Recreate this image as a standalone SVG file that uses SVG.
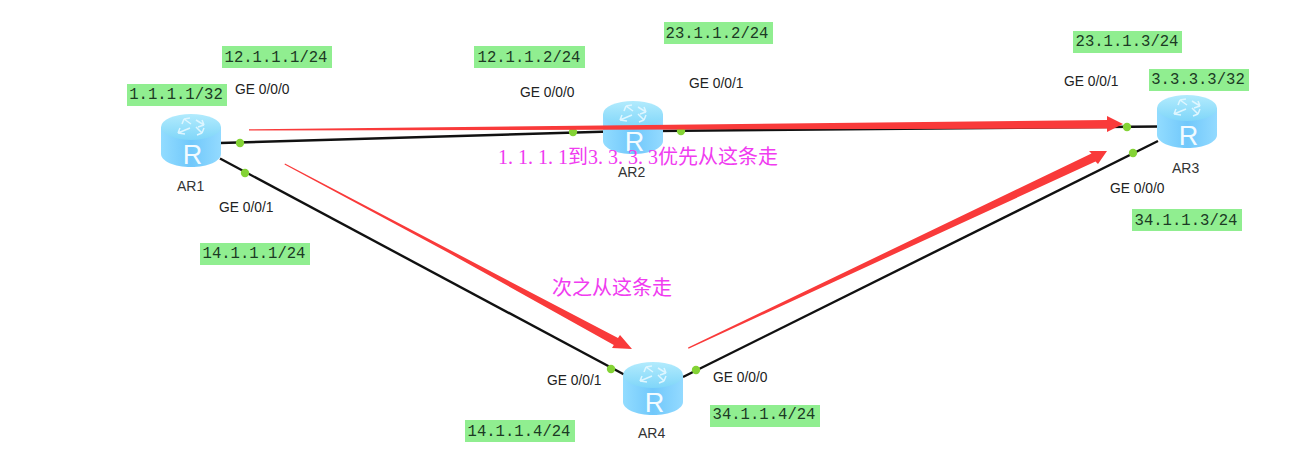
<svg xmlns="http://www.w3.org/2000/svg" width="1293" height="464" viewBox="0 0 1293 464">
<style>
.link{stroke:#111;stroke-width:2.4;fill:none}
.port{fill:#84d335}
.ge{font:13.8px "Liberation Sans",sans-serif;fill:#222}
.name{font:14px "Liberation Sans",sans-serif;fill:#333}
.tag{fill:#90ee90}
.ip{font:15.6px "Liberation Mono",monospace;fill:#1c3a24;text-anchor:middle}
.note{font:20px "Noto Sans CJK SC",sans-serif;fill:#f03cf0}
.note tspan{font:20px "Liberation Serif",serif}
.red{fill:#f93a3a}
.rt{font:27px "Liberation Sans",sans-serif;fill:#f2fbff;text-anchor:middle}
.ico{stroke:#def6ff;stroke-width:1.500;fill:none;stroke-linejoin:miter}
</style>
<defs>
<linearGradient id="body" x1="0" x2="1" y1="0" y2="0"><stop offset="0" stop-color="#92dcff"/><stop offset=".5" stop-color="#71c8fb"/><stop offset="1" stop-color="#93daff"/></linearGradient>
<linearGradient id="top" x1="0" x2="0" y1="0" y2="1"><stop offset="0" stop-color="#b2ebfd"/><stop offset="1" stop-color="#80d6f9"/></linearGradient>
<g id="router">
<path d="M0 13V40C0 47 13 53 30 53S60 47 60 40V13Z" fill="url(#body)"/>
<ellipse cx="30" cy="13" rx="30" ry="13" fill="url(#top)"/>
<path class="ico" d="M30 10L23 5M23 5L21 10M23 5L29 4M35 6L43 11M43 11L37 13M43 11L41 6M29 14L17 19M17 19L19 14M17 19L24 20M35 13L41 19M41 19L36 21M41 19L43 14"/>
</g>
</defs>
<rect width="1293" height="464" fill="#fff"/>
<g id="connectors">
<line class="link" x1="220" y1="143" x2="610" y2="131.500"/>
<line class="link" x1="655" y1="131" x2="1160" y2="126.500"/>
<line class="link" x1="220" y1="158.500" x2="625" y2="375"/>
<line class="link" x1="683" y1="377" x2="1158" y2="141"/>
<circle class="port" cx="240" cy="143" r="4.200"/>
<circle class="port" cx="245" cy="173" r="4.200"/>
<circle class="port" cx="573" cy="132" r="4.200"/>
<circle class="port" cx="681" cy="131" r="4.200"/>
<circle class="port" cx="1127" cy="127" r="4.200"/>
<circle class="port" cx="1133" cy="153" r="4.200"/>
<circle class="port" cx="611" cy="369" r="4.200"/>
<circle class="port" cx="696" cy="370" r="4.200"/>
</g>
<g id="AR1"><use href="#router" x="161" y="114"/><text class="rt" x="192.500" y="164">R</text><text class="name" x="177" y="191">AR1</text></g>
<g id="AR2"><use href="#router" x="603" y="101"/><text class="rt" x="634.500" y="151">R</text><text class="name" x="618" y="177">AR2</text></g>
<g id="AR3"><use href="#router" x="1157" y="95"/><text class="rt" x="1188.500" y="145">R</text><text class="name" x="1172" y="173">AR3</text></g>
<g id="AR4"><use href="#router" x="623" y="362"/><text class="rt" x="654.500" y="412">R</text><text class="name" x="638" y="438">AR4</text></g>
<g id="arrows">
<path class="red" d="M249 129.300L1107 120L1107 116L1123 124L1107 132L1107 128.500L249 130.500Z"/>
<path class="red" d="M285 163.500L450 250L618 338L620 335L632 349L612 348L613.800 345L448 252.500L284.500 164.500Z"/>
<path class="red" d="M688 347.500L1091.500 153.500L1089 151L1107 151L1098 164L1095.500 161.500L688.500 348.700Z"/>
</g>
<g id="labels">
<rect class="tag" x="222" y="46" width="110" height="22"/><text class="ip" x="276" y="62">12.1.1.1/24</text>
<rect class="tag" x="127" y="84" width="100" height="22"/><text class="ip" x="176" y="99">1.1.1.1/32</text>
<rect class="tag" x="474" y="46" width="111" height="22"/><text class="ip" x="529" y="62">12.1.1.2/24</text>
<rect class="tag" x="664" y="22" width="109" height="22"/><text class="ip" x="717" y="38">23.1.1.2/24</text>
<rect class="tag" x="1073" y="31" width="109" height="22"/><text class="ip" x="1127" y="46">23.1.1.3/24</text>
<rect class="tag" x="1149" y="69" width="100" height="22"/><text class="ip" x="1198" y="84">3.3.3.3/32</text>
<rect class="tag" x="1132" y="209" width="110" height="22"/><text class="ip" x="1186" y="225">34.1.1.3/24</text>
<rect class="tag" x="200" y="243" width="110" height="22"/><text class="ip" x="254" y="258">14.1.1.1/24</text>
<rect class="tag" x="465" y="420" width="110" height="22"/><text class="ip" x="519" y="436">14.1.1.4/24</text>
<rect class="tag" x="710" y="405" width="110" height="22"/><text class="ip" x="764" y="419">34.1.1.4/24</text>
<text class="ge" x="235" y="94">GE 0/0/0</text>
<text class="ge" x="219" y="212">GE 0/0/1</text>
<text class="ge" x="520" y="97">GE 0/0/0</text>
<text class="ge" x="689" y="88">GE 0/0/1</text>
<text class="ge" x="1064" y="86">GE 0/0/1</text>
<text class="ge" x="1110" y="193">GE 0/0/0</text>
<text class="ge" x="547" y="385">GE 0/0/1</text>
<text class="ge" x="713" y="382">GE 0/0/0</text>
<text class="note" y="164"><tspan x="498 508 518 528 538 548 558">1.1.1.1</tspan><tspan x="568" style="font:20px 'Noto Sans CJK SC',sans-serif">到</tspan><tspan x="588 598 608 618 628 638 648">3.3.3.3</tspan><tspan x="658 678 698 718 738 758" style="font:20px 'Noto Sans CJK SC',sans-serif">优先从这条走</tspan></text>
<text class="note" x="552" y="295">次之从这条走</text>
</g>
</svg>
